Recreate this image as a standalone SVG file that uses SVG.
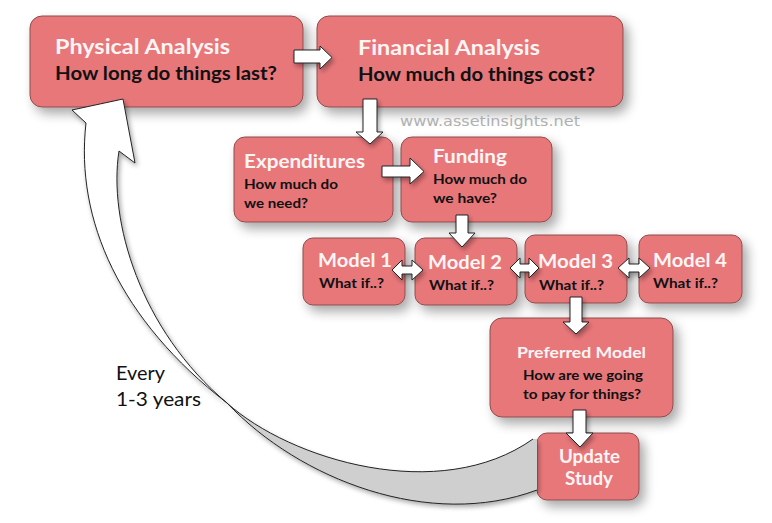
<svg xmlns="http://www.w3.org/2000/svg" width="772" height="523" viewBox="0 0 772 523">
<defs>
<filter id="sh" x="-20%" y="-20%" width="150%" height="160%">
<feGaussianBlur in="SourceAlpha" stdDeviation="6"/>
<feOffset dx="5" dy="6" result="b"/>
<feComponentTransfer><feFuncA type="linear" slope="0.35"/></feComponentTransfer>
<feMerge><feMergeNode/><feMergeNode in="SourceGraphic"/></feMerge>
</filter>
<filter id="sha" x="-30%" y="-30%" width="180%" height="180%">
<feGaussianBlur in="SourceAlpha" stdDeviation="2.5"/>
<feOffset dx="2" dy="3" result="b"/>
<feComponentTransfer><feFuncA type="linear" slope="0.35"/></feComponentTransfer>
<feMerge><feMergeNode/><feMergeNode in="SourceGraphic"/></feMerge>
</filter>
</defs>
<style>
.box{fill:#e8777a;stroke:#8e4b4c;stroke-width:1;filter:url(#sh)}
.t{font-family:Lato,"Liberation Sans",sans-serif;font-weight:bold;fill:#fff5f5}
.s{font-family:Lato,"Liberation Sans",sans-serif;font-weight:bold;fill:#111}
.arr{fill:#fff;stroke:#222;stroke-width:1;stroke-linejoin:miter;filter:url(#sha)}
.edge{fill:none;stroke:#222;stroke-width:1}
.lbl{font-family:Lato,"Liberation Sans",sans-serif;fill:#111;font-size:19px}
.wm{font-family:"DejaVu Sans","Liberation Sans",sans-serif;fill:#b0b0b0;font-size:14px}
</style>
<rect width="772" height="523" fill="#fff"/>

<g id="physical">
<rect class="box" x="30" y="16" width="273" height="91" rx="12"/>
<text class="t" x="55" y="54" font-size="21" textLength="175" lengthAdjust="spacingAndGlyphs">Physical Analysis</text>
<text class="s" x="55" y="80" font-size="18" textLength="222" lengthAdjust="spacingAndGlyphs">How long do things last?</text>
</g>

<g id="financial">
<rect class="box" x="317" y="16" width="306" height="91" rx="12"/>
<text class="t" x="358" y="55" font-size="21" textLength="182" lengthAdjust="spacingAndGlyphs">Financial Analysis</text>
<text class="s" x="358" y="81" font-size="18" textLength="237" lengthAdjust="spacingAndGlyphs">How much do things cost?</text>
</g>

<text id="watermark" class="wm" x="400" y="126" textLength="180" lengthAdjust="spacingAndGlyphs">www.assetinsights.net</text>

<g id="expenditures">
<rect class="box" x="234" y="137" width="159" height="85" rx="11"/>
<text class="t" x="244" y="168" font-size="19" textLength="121" lengthAdjust="spacingAndGlyphs">Expenditures</text>
<text class="s" x="244" y="189" font-size="14" textLength="94" lengthAdjust="spacingAndGlyphs">How much do</text>
<text class="s" x="244" y="208" font-size="14" textLength="64" lengthAdjust="spacingAndGlyphs">we need?</text>
</g>

<g id="funding">
<rect class="box" x="401" y="137" width="151" height="85" rx="11"/>
<text class="t" x="433" y="163" font-size="19" textLength="74" lengthAdjust="spacingAndGlyphs">Funding</text>
<text class="s" x="433" y="184" font-size="14" textLength="94" lengthAdjust="spacingAndGlyphs">How much do</text>
<text class="s" x="433" y="203" font-size="14" textLength="64" lengthAdjust="spacingAndGlyphs">we have?</text>
</g>

<g id="model1">
<rect class="box" x="303" y="238" width="102" height="67" rx="10"/>
<text class="t" x="318" y="267" font-size="18" textLength="74" lengthAdjust="spacingAndGlyphs">Model 1</text>
<text class="s" x="319" y="288" font-size="14" textLength="65" lengthAdjust="spacingAndGlyphs">What if..?</text>
</g>

<g id="model2">
<rect class="box" x="415" y="238" width="102" height="67" rx="10"/>
<text class="t" x="428" y="269" font-size="18" textLength="74" lengthAdjust="spacingAndGlyphs">Model 2</text>
<text class="s" x="429" y="290" font-size="14" textLength="65" lengthAdjust="spacingAndGlyphs">What if..?</text>
</g>

<g id="model3">
<rect class="box" x="525" y="235" width="102" height="68" rx="10"/>
<text class="t" x="538" y="268" font-size="18" textLength="75" lengthAdjust="spacingAndGlyphs">Model 3</text>
<text class="s" x="539" y="290" font-size="14" textLength="65" lengthAdjust="spacingAndGlyphs">What if..?</text>
</g>

<g id="model4">
<rect class="box" x="639" y="235" width="103" height="68" rx="10"/>
<text class="t" x="653" y="267" font-size="18" textLength="74" lengthAdjust="spacingAndGlyphs">Model 4</text>
<text class="s" x="653" y="288" font-size="14" textLength="65" lengthAdjust="spacingAndGlyphs">What if..?</text>
</g>

<g id="preferred">
<rect class="box" x="490" y="318" width="183" height="99" rx="12"/>
<text class="t" x="517" y="358" font-size="16" textLength="129" lengthAdjust="spacingAndGlyphs">Preferred Model</text>
<text class="s" x="523" y="380" font-size="14" textLength="120" lengthAdjust="spacingAndGlyphs">How are we going</text>
<text class="s" x="523" y="399" font-size="14" textLength="118" lengthAdjust="spacingAndGlyphs">to pay for things?</text>
</g>

<g id="update">
<rect class="box" x="537" y="433" width="102" height="67" rx="10"/>
<text class="t" x="559" y="463" font-size="18" textLength="61" lengthAdjust="spacingAndGlyphs">Update</text>
<text class="t" x="565" y="485" font-size="18" textLength="48" lengthAdjust="spacingAndGlyphs">Study</text>
</g>

<g id="label">
<text class="lbl" x="116" y="380" textLength="49" lengthAdjust="spacingAndGlyphs">Every</text>
<text class="lbl" x="116" y="406" textLength="85" lengthAdjust="spacingAndGlyphs">1-3 years</text>
</g>

<g id="connectors">
<path id="cycle-back" d="M227,403 C290,460 440,505 533,439 L537,439 L537,490 C430,530 300,480 227,403 Z" fill="#cfcfcf" stroke="none" filter="url(#sha)"/>
<path class="edge" d="M227,403 C290,460 440,505 533,439"/>
<path class="edge" d="M227,403 C300,480 430,530 537,490"/>
<path id="cycle-front" class="arr" d="M86,123 L72,110 L123,99 L135,163 L119,151 C108,220 140,330 227,403 C120,320 75,220 86,123 Z"/>
<path class="arr" d="M294,50 L320,50 L320,46 L332,57.5 L320,69 L320,63 L294,63 Z"/>
<path class="arr" d="M363,99 L377,99 L377,132 L383,132 L370,144 L356,132 L363,132 Z"/>
<path class="arr" d="M382,166 L410,166 L410,158 L424,171.5 L410,184 L410,177 L382,177 Z"/>
<path class="arr" d="M456,215 L468,215 L468,233 L475,233 L462,247 L449,233 L456,233 Z"/>
<path class="arr" d="M392,270 L402,260 L402,266 L412,266 L412,260 L423,270 L412,280 L412,274 L402,274 L402,280 Z"/>
<path class="arr" d="M510,268 L520,258 L520,264 L529,264 L529,258 L539,268 L529,278 L529,272 L520,272 L520,278 Z"/>
<path class="arr" d="M618,268 L629,258 L629,264 L639,264 L639,258 L650,268 L639,278 L639,272 L629,272 L629,278 Z"/>
<path class="arr" d="M570,297 L582,297 L582,322 L589,322 L576,334 L563,322 L570,322 Z"/>
<path class="arr" d="M573,410 L586,410 L586,433 L593,433 L580,447 L566,433 L573,433 Z"/>
</g>
</svg>
